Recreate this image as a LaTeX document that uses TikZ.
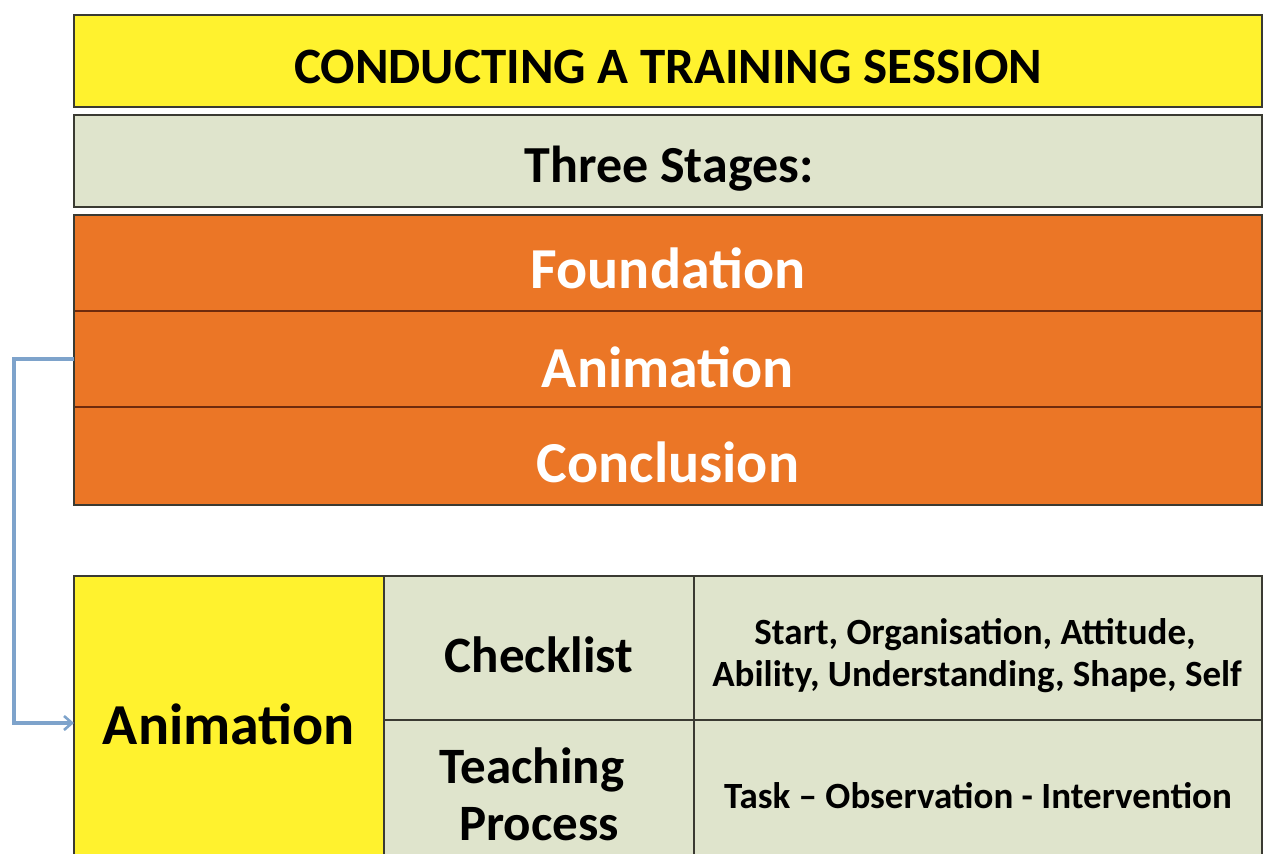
\documentclass[tikz,border=0pt]{standalone}
\usepackage{fontspec}
\setmainfont{Carlito}
\usetikzlibrary{arrows.meta}
\definecolor{ttyellow}{HTML}{FFF22E}
\definecolor{ttgrey}{HTML}{DFE4CC}
\definecolor{ttorange}{HTML}{EB7626}
\definecolor{ttborder}{HTML}{3A3A32}
\definecolor{ttdiv}{HTML}{6E2A0C}
\definecolor{ttblue}{HTML}{7EA3CB}
\tikzset{
  cell/.style={draw=ttborder, line width=1.8pt, inner sep=0pt, outer sep=0pt},
  ycell/.style={cell, fill=ttyellow},
  gcell/.style={cell, fill=ttgrey},
  ocell/.style={cell, fill=ttorange, draw=ttdiv},
  txt/.style={anchor=base, inner sep=0pt, outer sep=0pt},
  headtxt/.style={txt, font=\bfseries\fontsize{51}{60}\selectfont},
  stagetxt/.style={txt, text=white, font=\bfseries\fontsize{58}{70}\selectfont},
  midtxt/.style={txt, font=\bfseries\fontsize{51}{60}\selectfont},
  desctxt/.style={txt, font=\bfseries\fontsize{37}{44}\selectfont},
  link/.style={draw=ttblue, line width=3.2pt, -{Straight Barb[length=8pt,width=14pt,line width=2.6pt]}}
}
\begin{document}
\begin{tikzpicture}[x=1pt,y=-1pt]
\useasboundingbox (0,0) rectangle (1269,854);
\clip (0,0) rectangle (1269,854);
% upper boxes
\node[ycell, minimum width=1188pt, minimum height=92pt] (title) at (668,61) {};
\node[gcell, minimum width=1188pt, minimum height=92pt] (stages) at (668,161) {};
\node[ocell, minimum width=1188pt, minimum height=96pt] (found) at (668,263) {};
\node[ocell, minimum width=1188pt, minimum height=96pt] (anim) at (668,359) {};
\node[ocell, minimum width=1188pt, minimum height=98pt] (concl) at (668,456) {};
\draw[draw=ttborder, line width=1.8pt] (found.north west) rectangle (concl.south east);
\node[headtxt] (titleT) at (668,83) {CONDUCTING A TRAINING SESSION};
\node[headtxt, font=\bfseries\fontsize{52}{60}\selectfont] (stagesT) at (669,182) {Three Stages:};
\node[stagetxt] (foundT) at (668,288) {Foundation};
\node[stagetxt] (animT) at (668,387) {Animation};
\node[stagetxt] (conclT) at (668,482) {Conclusion};
% lower table
\node[ycell, minimum width=310pt, minimum height=294pt] (banim) at (229,723) {};
\node[gcell, minimum width=310pt, minimum height=144pt] (check) at (539,648) {};
\node[gcell, minimum width=310pt, minimum height=150pt] (teach) at (539,795) {};
\node[gcell, minimum width=568pt, minimum height=144pt] (cdesc) at (978,648) {};
\node[gcell, minimum width=568pt, minimum height=150pt] (tdesc) at (978,795) {};
\node[txt, font=\bfseries\fontsize{58}{68}\selectfont] (banimT) at (229,744) {Animation};
\node[midtxt] (checkT) at (539,672) {Checklist};
\node[midtxt] (teachT1) at (532,783) {Teaching};
\node[midtxt] (teachT2) at (539,840) {Process};
\node[desctxt] (cdescT1) at (975,644) {Start, Organisation, Attitude,};
\node[desctxt] (cdescT2) at (977,686) {Ability, Understanding, Shape, Self};
\node[desctxt] (tdescT) at (978,808) {Task – Observation - Intervention};
% connector
\draw[link] (anim.west) -- ++(-60,0) |- (banim.west);
\end{tikzpicture}
\end{document}
